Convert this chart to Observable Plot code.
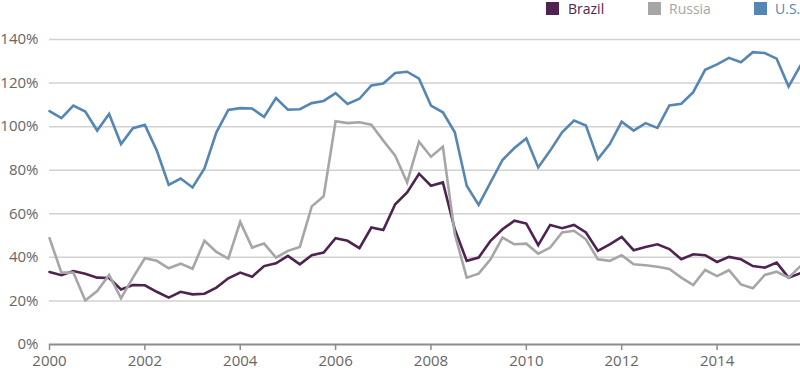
<!DOCTYPE html>
<html><head><meta charset="utf-8">
<script src="https://cdn.jsdelivr.net/npm/d3@7"></script>
<script src="https://cdn.jsdelivr.net/npm/@observablehq/plot@0.6"></script>
<style>
body{margin:0;background:#fff;font-family:"Open Sans",sans-serif;}
#wrap{position:relative;width:800px;}
#legend{position:relative;height:26px;width:800px;}
.sw{position:absolute;top:2px;width:13px;height:13px;}
.lb{position:absolute;top:0px;font-size:14px;line-height:18px;}
</style></head>
<body>
<div id="wrap">
<div id="legend"></div>
<div id="chart"></div>
</div>
<script>
const quarters = ["2000Q1","2000Q2","2000Q3","2000Q4","2001Q1","2001Q2","2001Q3","2001Q4",
"2002Q1","2002Q2","2002Q3","2002Q4","2003Q1","2003Q2","2003Q3","2003Q4",
"2004Q1","2004Q2","2004Q3","2004Q4","2005Q1","2005Q2","2005Q3","2005Q4",
"2006Q1","2006Q2","2006Q3","2006Q4","2007Q1","2007Q2","2007Q3","2007Q4",
"2008Q1","2008Q2","2008Q3","2008Q4","2009Q1","2009Q2","2009Q3","2009Q4",
"2010Q1","2010Q2","2010Q3","2010Q4","2011Q1","2011Q2","2011Q3","2011Q4",
"2012Q1","2012Q2","2012Q3","2012Q4","2013Q1","2013Q2","2013Q3","2013Q4",
"2014Q1","2014Q2","2014Q3","2014Q4","2015Q1","2015Q2","2015Q3","2015Q4"];

const brazil = [33.3,31.8,33.7,32.5,30.7,30.5,25.3,27.3,27.2,24.2,21.5,24.2,23.0,23.3,26.1,30.4,
33.0,31.1,36.0,37.3,40.7,36.8,41.0,42.2,48.8,47.6,44.2,53.7,52.5,64.4,69.8,78.4,
72.9,74.4,52.9,38.4,39.9,47.6,52.9,56.8,55.5,45.6,54.9,53.4,54.9,51.4,43.0,46.0,
49.4,43.3,44.8,46.0,43.8,39.1,41.4,41.0,37.9,40.2,39.1,36.0,35.3,37.6,30.7,32.7];

const russia = [48.8,33.0,33.0,20.2,24.5,31.9,21.2,30.7,39.6,38.4,35.0,37.1,34.8,47.6,42.5,39.4,
56.3,44.5,46.3,39.9,43.0,44.8,63.4,68.0,102.5,101.6,102.0,100.9,93.6,86.7,74.4,93.1,
86.2,90.8,50.6,30.7,32.5,39.1,49.1,46.0,46.3,41.7,44.5,51.4,52.2,48.3,39.1,38.4,
41.0,36.8,36.4,35.7,34.7,30.7,27.3,34.2,31.4,34.1,27.6,25.8,31.9,33.4,30.7,36.0];

const us = [107.1,103.9,109.7,106.9,98.2,105.8,92.0,99.3,100.8,89.0,73.3,76.2,72.1,80.8,97.4,107.7,
108.5,108.3,104.5,113.1,107.8,108.0,110.8,111.8,115.4,110.4,112.8,118.9,119.8,124.6,125.2,122.0,
109.7,106.6,97.4,72.9,64.1,74.4,84.7,90.2,94.6,81.3,89.0,97.4,102.8,100.5,85.1,92.0,
102.3,98.2,101.6,99.4,109.7,110.5,115.8,126.1,128.6,131.6,129.6,134.2,133.8,131.2,118.4,128.1];

const seriesNames = ["Brazil","Russia","U.S."];
const seriesColors = ["#4f2350","#a6a6a6","#5686b4"];
const yTicks = [0,20,40,60,80,100,120,140];
const xTicks = [2000,2002,2004,2006,2008,2010,2012,2014];

const toYear = q => +q.slice(0,4) + (+q.slice(5) - 1) / 4;
const rows = [];
[brazil, russia, us].forEach((vals, k) => {
  vals.forEach((v, i) => rows.push({series: seriesNames[k], x: toYear(quarters[i]), v}));
});

// legend
const legend = document.getElementById("legend");
const legPos = [[546,568],[648,669],[754,775]];
seriesNames.forEach((n, k) => {
  const s = document.createElement("div");
  s.className = "sw"; s.style.left = legPos[k][0] + "px"; s.style.background = seriesColors[k];
  legend.appendChild(s);
  const t = document.createElement("div");
  t.className = "lb"; t.style.left = legPos[k][1] + "px"; t.style.color = seriesColors[k];
  t.textContent = n;
  legend.appendChild(t);
});

const chart = Plot.plot({
  width: 800,
  height: 344,
  marginLeft: 49,
  marginRight: 0,
  marginTop: 13,
  marginBottom: 26,
  style: {fontFamily: "'Open Sans', sans-serif", fontSize: "15px", color: "#666", background: "#fff"},
  x: {domain: [2000, 2015.75], axis: null},
  y: {domain: [0, 140], axis: null},
  color: {domain: seriesNames, range: seriesColors},
  marks: [
    Plot.ruleY(yTicks.filter(d => d > 0), {stroke: "#d2d2d2", strokeWidth: 1.5}),
    Plot.axisY({ticks: yTicks, tickFormat: d => d + "%", tickSize: 0, tickPadding: 11, label: null}),
    Plot.lineY(rows, {x: "x", y: "v", z: "series", stroke: "series", strokeWidth: 2.6, strokeLinejoin: "miter", strokeMiterlimit: 3}),
    Plot.ruleY([0], {stroke: "#8c8c8c", strokeWidth: 2}),
    Plot.axisX({ticks: xTicks, tickFormat: d => String(d), tickSize: 6, tickPadding: 5, stroke: "#8c8c8c", strokeWidth: 1.5, label: null})
  ]
});
document.getElementById("chart").appendChild(chart);
</script>
</body></html>
